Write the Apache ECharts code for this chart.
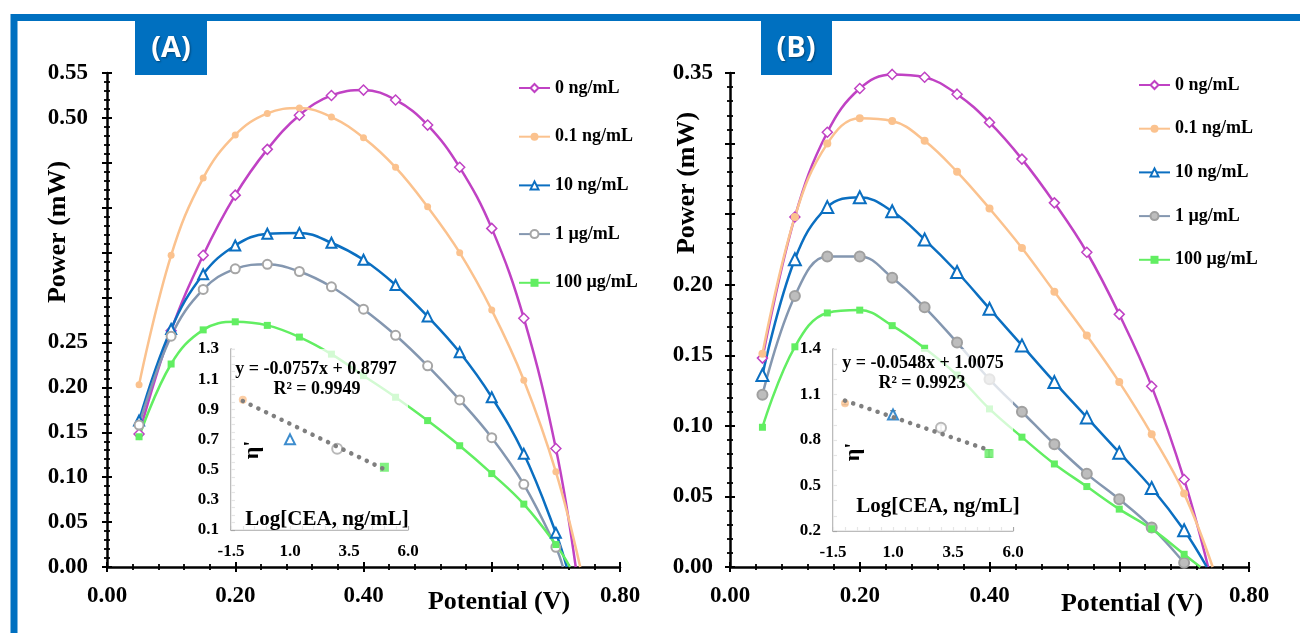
<!DOCTYPE html>
<html>
<head>
<meta charset="utf-8">
<script src="https://cdn.jsdelivr.net/npm/echarts@6/dist/echarts.min.js"></script>
<style>
  html, body { margin: 0; padding: 0; background: #fff; }
  #chart { width: 1300px; height: 633px; }
</style>
</head>
<body>
<div id="chart"></div>
<script>
// measured potentials (V)
const potential = [0.05, 0.10, 0.15, 0.20, 0.25, 0.30, 0.35, 0.40, 0.45, 0.50, 0.55, 0.60, 0.65, 0.70];
const concLabels = ['0 ng/mL', '0.1 ng/mL', '10 ng/mL', '1 µg/mL', '100 µg/mL'];
const concLabelsB = concLabels.map(s => s + ' ');

// panel A power (mW)
const powerA0 = [0.148, 0.263, 0.347, 0.414, 0.465, 0.503, 0.525, 0.531, 0.520, 0.492, 0.445, 0.377, 0.277, 0.132];
const powerA01 = [0.203, 0.347, 0.433, 0.481, 0.505, 0.511, 0.501, 0.478, 0.445, 0.401, 0.350, 0.286, 0.208, 0.106];
const powerA10 = [0.163, 0.265, 0.326, 0.358, 0.371, 0.372, 0.361, 0.342, 0.314, 0.279, 0.239, 0.189, 0.126, 0.038];
const powerA1k = [0.158, 0.257, 0.309, 0.332, 0.337, 0.329, 0.312, 0.287, 0.258, 0.224, 0.186, 0.144, 0.092, 0.022];
const powerA100k = [0.145, 0.226, 0.264, 0.273, 0.269, 0.256, 0.237, 0.213, 0.189, 0.163, 0.135, 0.104, 0.070, 0.025];
const zeroCrossA = [0.731, 0.738, 0.717, 0.711, 0.722];

// panel B power (mW)
const powerB0 = [0.148, 0.248, 0.308, 0.339, 0.349, 0.347, 0.335, 0.315, 0.289, 0.258, 0.223, 0.179, 0.128, 0.062];
const powerB01 = [0.151, 0.248, 0.300, 0.318, 0.316, 0.302, 0.280, 0.254, 0.226, 0.195, 0.164, 0.131, 0.094, 0.052];
const powerB10 = [0.136, 0.218, 0.255, 0.262, 0.252, 0.232, 0.209, 0.183, 0.157, 0.131, 0.106, 0.081, 0.056, 0.026];
const powerB1k = [0.122, 0.192, 0.220, 0.220, 0.205, 0.184, 0.159, 0.133, 0.110, 0.087, 0.066, 0.048, 0.028, 0.003];
const powerB100k = [0.099, 0.156, 0.180, 0.182, 0.171, 0.155, 0.136, 0.112, 0.092, 0.073, 0.057, 0.041, 0.027, 0.009];
const zeroCrossB = [0.737, 0.744, 0.735, 0.703, 0.725];

// insets: eta' vs log concentration
const logCEA = [-1, 1, 3, 5];
const etaA = [0.963, 0.701, 0.638, 0.516];
const etaB = [1.042, 0.968, 0.880, 0.711];
const errB = [0.01, 0.025, 0.02, 0.025];
const trendX = [-1, 5];
const trendA = [0.955, 0.502];
const trendB = [1.060, 0.733];

// tick labels
const xLabelsMain = [0, 0.2, 0.4, 0.8];
const yLabelsA = [0, 0.05, 0.10, 0.15, 0.20, 0.25, 0.50, 0.55];
const yLabelsB = [0, 0.05, 0.10, 0.15, 0.20, 0.35];
const insetXLabels = [-1.5, 1.0, 3.5, 6.0];
const insetYLabelsA = [0.1, 0.3, 0.5, 0.7, 0.9, 1.1, 1.3];
const insetYLabelsB = [0.2, 0.5, 0.8, 1.1, 1.4];

const colors = ['#C042C4', '#FBC28E', '#0B6FC1', '#8497B0', '#62EE62'];
const serif = 'Liberation Serif';
const insetGridA = { left: 231, top: 349, width: 177, height: 181 };
const insetGridB = { left: 833, top: 349, width: 180, height: 182 };

// main axis pair: labels + outer ticks, and a bare copy for the inner half of the ticks
function mainAxes(grid, max, interval, labels, margin, pos) {
  const common = { type: 'value', gridIndex: grid, min: 0, max, interval, position: pos,
    splitLine: { show: false } };
  const tick = { show: true, lineStyle: { color: '#000', width: 2 } };
  const minor = { show: true, splitNumber: 5, length: 3, lineStyle: { color: '#000', width: 1.8 } };
  return [
    Object.assign({}, common, {
      axisLine: { show: true, onZero: false, lineStyle: { color: '#000', width: 2.5 } },
      axisTick: Object.assign({ length: 5 }, tick),
      minorTick: minor,
      axisLabel: { customValues: labels, formatter: v => v.toFixed(2), margin, color: '#000',
        fontFamily: serif, fontWeight: 'bold', fontSize: 23 }
    }),
    Object.assign({}, common, {
      axisLine: { show: false, onZero: false },
      axisTick: Object.assign({ inside: true, length: 5 }, tick),
      minorTick: minor,
      axisLabel: { show: false }
    })
  ];
}

// inset axis: grey line, short ticks on a fine interval, labels at the given values
function insetAxis(grid, min, max, step, labels, margin, pos) {
  return {
    type: 'value', gridIndex: grid, min, max, interval: step, position: pos,
    splitLine: { show: false },
    axisLine: { show: true, onZero: false, lineStyle: { color: '#A6A6A6', width: 1.5 } },
    axisTick: { show: true, inside: true, length: 4, lineStyle: { color: '#A6A6A6', width: 1.2 } },
    axisLabel: { customValues: labels, formatter: v => v.toFixed(1), margin, color: '#000',
      fontFamily: serif, fontWeight: 'bold', fontSize: 17 }
  };
}

function curve(name, vals, zc, i, xi, big) {
  const symbols = ['diamond', 'circle', 'triangle', 'circle', 'rect'];
  const sizes = big ? [10, 8, 12, 10, 7] : [10, 7, 10, 9, 7];
  const item = [
    { color: '#fff', borderColor: colors[0], borderWidth: 1.5 },
    { color: colors[1] },
    { color: '#fff', borderColor: colors[2], borderWidth: 2 },
    big ? { color: '#BDBDBD', borderColor: '#A0A0A0', borderWidth: 2 }
        : { color: '#fff', borderColor: '#A6A6A6', borderWidth: 2 },
    { color: colors[4] }
  ][i];
  const data = potential.map((x, k) => [x, vals[k]]);
  data.push({ value: [zc, 0], symbol: 'none' });
  return {
    name, type: 'line', xAxisIndex: xi, yAxisIndex: xi, data, smooth: 0.4,
    symbol: symbols[i], symbolSize: sizes[i], showSymbol: true,
    itemStyle: item, lineStyle: { color: colors[i], width: 2.5 }, z: 2
  };
}

function insetSeries(eta, trend, xi) {
  const marks = [
    { symbol: 'circle', size: 8, style: { color: colors[1] } },
    { symbol: 'triangle', size: 10, style: { color: '#fff', borderColor: colors[2], borderWidth: 2 } },
    { symbol: 'circle', size: 10, style: { color: '#fff', borderColor: '#A6A6A6', borderWidth: 2 } },
    { symbol: 'rect', size: 9, style: { color: colors[4] } }
  ];
  return [
    {
      type: 'scatter', xAxisIndex: xi, yAxisIndex: xi, z: 5,
      data: logCEA.map((x, k) => ({ value: [x, eta[k]], symbol: marks[k].symbol,
        symbolSize: marks[k].size, itemStyle: marks[k].style }))
    },
    {
      type: 'line', xAxisIndex: xi, yAxisIndex: xi, z: 6, symbol: 'none',
      data: trendX.map((x, k) => [x, trend[k]]),
      lineStyle: { color: '#7F7F7F', width: 4.5, type: [0.1, 8.5], cap: 'round' }
    }
  ];
}

function errorBars(eta, err, xi) {
  return {
    type: 'custom', xAxisIndex: xi, yAxisIndex: xi, z: 5,
    data: logCEA.map((x, k) => [x, eta[k], err[k]]),
    renderItem: (params, api) => {
      const x = api.value(0), y = api.value(1), e = api.value(2);
      const t = api.coord([x, y + e]), b = api.coord([x, y - e]);
      const st = { stroke: '#808080', lineWidth: 1 };
      return { type: 'group', children: [
        { type: 'line', shape: { x1: t[0], y1: t[1], x2: b[0], y2: b[1] }, style: st },
        { type: 'line', shape: { x1: t[0] - 3, y1: t[1], x2: t[0] + 3, y2: t[1] }, style: st },
        { type: 'line', shape: { x1: b[0] - 3, y1: b[1], x2: b[0] + 3, y2: b[1] }, style: st }
      ] };
    }
  };
}

function label(text, x, y, size, rot) {
  return { type: 'text', x, y, rotation: rot || 0, z: 10,
    style: { text, fill: '#000', font: 'bold ' + size + 'px "' + serif + '"',
      align: 'center', verticalAlign: 'middle', textAlign: 'center', textVerticalAlign: 'middle' } };
}

// translucent white plot area of an inset, drawn over the main curves
function fade(g) {
  return { type: 'rect', z: 3, silent: true,
    shape: { x: g.left, y: g.top, width: g.width, height: g.height },
    style: { fill: 'rgba(255,255,255,0.72)' } };
}

const chart = echarts.init(document.getElementById('chart'), null, { renderer: 'canvas' });

const xAxis = [].concat(
  mainAxes(0, 0.8, 0.2, xLabelsMain, 18, 'bottom'),
  [insetAxis(1, -1.5, 6.0, 0.5, insetXLabels, 13, 'bottom')],
  mainAxes(2, 0.8, 0.2, xLabelsMain, 18, 'bottom'),
  [insetAxis(3, -1.5, 6.0, 0.5, insetXLabels, 13, 'bottom')]
);
const yAxis = [].concat(
  mainAxes(0, 0.55, 0.05, yLabelsA, 19, 'left'),
  [insetAxis(1, 0.1, 1.3, 0.05, insetYLabelsA, 12, 'left')],
  mainAxes(2, 0.35, 0.05, yLabelsB, 17, 'left'),
  [insetAxis(3, 0.2, 1.4, 0.1, insetYLabelsB, 12, 'left')]
);

const seriesA = [powerA0, powerA01, powerA10, powerA1k, powerA100k]
  .map((v, i) => curve(concLabels[i], v, zeroCrossA[i], i, 0, false));
const seriesB = [powerB0, powerB01, powerB10, powerB1k, powerB100k]
  .map((v, i) => curve(concLabelsB[i], v, zeroCrossB[i], i, 3, true));

const legendText = { fontFamily: serif, fontWeight: 'bold', fontSize: 18, color: '#000', lineHeight: 20 };

chart.setOption({
  animation: false,
  backgroundColor: '#fff',
  grid: [
    { left: 107, top: 73, width: 513, height: 494 },
    insetGridA,
    { left: 730, top: 73, width: 519, height: 494 },
    insetGridB
  ],
  xAxis,
  yAxis,
  legend: [
    { data: concLabels, orient: 'vertical', left: 513, top: 73, itemGap: 28.7,
      itemWidth: 31, itemHeight: 10, textStyle: legendText, selectedMode: false },
    { data: concLabelsB, orient: 'vertical', left: 1133, top: 70, itemGap: 23.7,
      itemWidth: 31, itemHeight: 10, textStyle: legendText, selectedMode: false }
  ],
  series: [].concat(
    seriesA,
    insetSeries(etaA, trendA, 2),
    seriesB,
    [errorBars(etaB, errB, 5)],
    insetSeries(etaB, trendB, 5)
  ),
  graphic: [
    { type: 'rect', z: 0, shape: { x: 14, y: 17.5, width: 1400, height: 700 },
      style: { fill: null, stroke: '#0070C0', lineWidth: 7 } },
    fade(insetGridA),
    fade(insetGridB),
    { type: 'rect', z: 1, shape: { x: 135, y: 21, width: 72, height: 54 }, style: { fill: '#0070C0' } },
    { type: 'rect', z: 1, shape: { x: 761, y: 21, width: 71, height: 54 }, style: { fill: '#0070C0' } },
    { type: 'text', x: 171, y: 49, z: 2, style: { text: '(A)', fill: '#fff', font: 'bold 29px "Open Sans"',
      align: 'center', verticalAlign: 'middle', textAlign: 'center', textVerticalAlign: 'middle',
      textShadowColor: 'rgba(0,0,0,0.4)', textShadowOffsetX: 1, textShadowOffsetY: 1, textShadowBlur: 2 } },
    { type: 'text', x: 796, y: 49, z: 2, style: { text: '(B)', fill: '#fff', font: 'bold 29px "Open Sans"',
      align: 'center', verticalAlign: 'middle', textAlign: 'center', textVerticalAlign: 'middle',
      textShadowColor: 'rgba(0,0,0,0.4)', textShadowOffsetX: 1, textShadowOffsetY: 1, textShadowBlur: 2 } },
    label('Power (mW)', 58, 232, 26, Math.PI / 2),
    label('Potential (V)', 499, 602, 26),
    label('Power (mW)', 687, 183, 26, Math.PI / 2),
    label('Potential (V)', 1132, 604, 26),
    label('y = -0.0757x + 0.8797', 316, 369, 18),
    label('R² = 0.9949', 317, 389, 18),
    label('Log[CEA, ng/mL]', 327, 520, 21),
    label("η'", 252, 450, 22, Math.PI / 2),
    label('y = -0.0548x + 1.0075', 923, 363, 18),
    label('R² = 0.9923', 922, 383, 18),
    label('Log[CEA, ng/mL]', 938, 507, 21),
    label("η'", 853, 452, 22, Math.PI / 2)
  ]
});
</script>
</body>
</html>
